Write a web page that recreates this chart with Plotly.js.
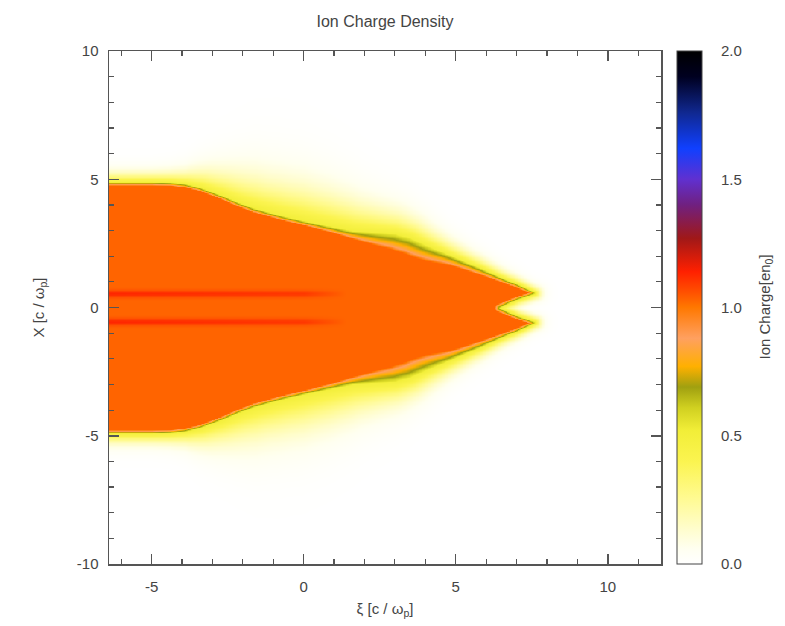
<!DOCTYPE html>
<html>
<head>
<meta charset="utf-8">
<script src="https://cdn.plot.ly/plotly-3.0.1.min.js"></script>
<style>html,body{margin:0;padding:0;background:#fff;}#chart{width:785px;height:626px;}</style>
</head>
<body>
<div id="chart"></div>
<script>
// ---- values ----
// upper boundary of the ion column (lower half mirrors it)
const PROFILE_XI = [-6.4, -5.0, -4.4, -3.9, -3.4, -2.8, -2.2, -1.6, -0.8, 0.0, 0.8, 1.6, 2.4, 3.0, 3.5, 4.0, 4.8, 5.6, 6.4, 7.0, 7.6];
const OUTER_X    = [4.9, 4.9, 4.88, 4.82, 4.68, 4.42, 4.12, 3.86, 3.6, 3.38, 3.18, 3.0, 2.93, 2.88, 2.72, 2.45, 2.05, 1.65, 1.22, 0.92, 0.6];
// thickness of the olive / amber / peach rim inside the edge
const RIM_WIDTH  = [0.12, 0.12, 0.12, 0.12, 0.12, 0.13, 0.14, 0.15, 0.15, 0.16, 0.2, 0.3, 0.5, 0.62, 0.62, 0.55, 0.35, 0.25, 0.16, 0.12, 0.1];
// width of the yellow glow outside the edge
const HALO_WIDTH = [0.35, 0.35, 0.38, 0.45, 0.6, 0.75, 0.9, 1.05, 1.15, 1.2, 1.15, 1.05, 0.9, 0.8, 0.7, 0.6, 0.45, 0.35, 0.28, 0.24, 0.2];
// notch at the head of the column
const NOTCH_XI = [6.45, 7.0, 7.6];
const NOTCH_X  = [0.0, 0.32, 0.55];
// two denser filaments near x = +/-0.55
const FIL_X = 0.55;
const FIL_XI  = [-6.4, -2.0, 0.0, 0.8, 1.4];
const FIL_AMP = [0.1, 0.08, 0.07, 0.03, 0.0];
// levels
const BODY_LEVEL = 1.03;
const HALO_PEAK = 0.5;
const RIM_T = [0, 0.3, 0.55, 0.8, 1.0];
const RIM_V = [0.52, 0.68, 0.77, 0.88, 1.03];
// axes
const XI_RANGE = [-6.4, 11.75];
const X_RANGE = [-10, 10];
const XI_TICKS = [-5, 0, 5, 10];
const XI_TICKTEXT = ['-5', '0', '5', '10'];
const X_TICKS = [-10, -5, 0, 5, 10];
const X_TICKTEXT = ['-10', '-5', '0', '5', '10'];
const CB_TICKS = [0, 0.5, 1.0, 1.5, 2.0];
const CB_TICKTEXT = ['0.0', '0.5', '1.0', '1.5', '2.0'];

function interp(xs, ys, x) {
  if (x <= xs[0]) return ys[0];
  const n = xs.length;
  if (x >= xs[n - 1]) return ys[n - 1];
  for (let i = 1; i < n; i++) {
    if (x <= xs[i]) {
      const t = (x - xs[i - 1]) / (xs[i] - xs[i - 1]);
      return ys[i - 1] + t * (ys[i] - ys[i - 1]);
    }
  }
  return ys[n - 1];
}

// boundary polyline (upper half): outer edge -> tip -> notch down to the axis
const poly = [];
for (let i = 0; i < PROFILE_XI.length; i++) poly.push([PROFILE_XI[i], OUTER_X[i]]);
for (let i = NOTCH_XI.length - 1; i >= 0; i--) poly.push([NOTCH_XI[i], NOTCH_X[i]]);

function distToPoly(px, py) {
  let best = 1e9;
  for (let i = 0; i < poly.length - 1; i++) {
    const ax = poly[i][0], ay = poly[i][1], bx = poly[i + 1][0], by = poly[i + 1][1];
    const dx = bx - ax, dy = by - ay;
    const L = dx * dx + dy * dy;
    let t = L > 0 ? ((px - ax) * dx + (py - ay) * dy) / L : 0;
    t = Math.max(0, Math.min(1, t));
    const qx = ax + t * dx - px, qy = ay + t * dy - py;
    const d = qx * qx + qy * qy;
    if (d < best) best = d;
  }
  return Math.sqrt(best);
}

function inside(xi, ax) {
  if (xi < PROFILE_XI[0] - 1 || xi > PROFILE_XI[PROFILE_XI.length - 1]) return false;
  if (ax > interp(PROFILE_XI, OUTER_X, xi)) return false;
  if (xi >= NOTCH_XI[0] && ax < interp(NOTCH_XI, NOTCH_X, xi)) return false;
  return true;
}

const step = 0.05;
const xs = [], ys = [], z = [];
for (let v = XI_RANGE[0]; v <= XI_RANGE[1] + 1e-9; v += step) xs.push(+v.toFixed(3));
for (let v = X_RANGE[0]; v <= X_RANGE[1] + 1e-9; v += step) ys.push(+v.toFixed(3));
for (let j = 0; j < ys.length; j++) {
  const row = [];
  const ax = Math.abs(ys[j]);
  for (let i = 0; i < xs.length; i++) {
    const xi = xs[i];
    const d = distToPoly(xi, ax);
    let val;
    if (inside(xi, ax)) {
      const r = interp(PROFILE_XI, RIM_WIDTH, xi);
      const t = d / r;
      val = t >= 1 ? BODY_LEVEL : interp(RIM_T, RIM_V, t);
      const fa = interp(FIL_XI, FIL_AMP, xi);
      val += fa * Math.exp(-Math.pow((ax - FIL_X) / 0.13, 2));
    } else {
      const w = interp(PROFILE_XI, HALO_WIDTH, xi);
      val = HALO_PEAK * Math.exp(-Math.pow(d / w, 1.3));
    }
    row.push(val);
  }
  z.push(row);
}

const colorscale = [
  [0.0, '#ffffff'], [0.03, '#fffff0'], [0.065, '#fffdd0'], [0.13, '#fffa90'], [0.2, '#fbf450'],
  [0.26, '#f2ee38'], [0.305, '#d0d020'], [0.345, '#a0a010'], [0.385, '#ffb000'],
  [0.44, '#ffa060'], [0.5, '#ff7800'], [0.53, '#ff5000'], [0.57, '#ff2000'],
  [0.635, '#a01818'], [0.7, '#702080'], [0.75, '#6030d0'], [0.81, '#1040ff'],
  [0.88, '#102890'], [0.95, '#000020'], [1.0, '#000000']
];

const FONT = 'Liberation Sans, Arial, Helvetica, sans-serif';
const TXT = '#444';

// colorbar tick marks on both sides of the bar
const cbL = (677 - 109) / 552, cbR = (702 - 109) / 552;
const shapes = [];
for (let k = 1; k < 20; k++) {
  const yv = k / 20;
  const major = k % 5 === 0;
  const len = (major ? 7 : 4) / 552;
  shapes.push({type: 'line', xref: 'paper', yref: 'paper', x0: cbL, x1: cbL + len, y0: yv, y1: yv, line: {color: '#333', width: 1}});
  shapes.push({type: 'line', xref: 'paper', yref: 'paper', x0: cbR - len, x1: cbR, y0: yv, y1: yv, line: {color: '#333', width: 1}});
}

const trace = {
  type: 'heatmap', x: xs, y: ys, z: z,
  zmin: 0, zmax: 2, colorscale: colorscale, zsmooth: 'best',
  hoverinfo: 'skip',
  colorbar: {
    x: cbL, xanchor: 'left', xpad: 0, ypad: 0, len: 1, lenmode: 'fraction',
    y: 0.5, yanchor: 'middle',
    thickness: 25, thicknessmode: 'pixels',
    outlinewidth: 1, outlinecolor: '#444',
    tickmode: 'array', tickvals: CB_TICKS, ticktext: CB_TICKTEXT,
    ticks: 'outside', ticklen: 16, tickcolor: 'rgba(0,0,0,0)',
    tickfont: {family: FONT, size: 15, color: TXT}
  }
};

const axisCommon = {
  showgrid: false, zeroline: false, showline: true, linecolor: '#555', linewidth: 1.5,
  mirror: 'ticks', ticks: 'inside', ticklen: 10, tickwidth: 1.5, tickcolor: '#555',
  tickmode: 'array', tickfont: {family: FONT, size: 15, color: TXT},
  minor: {ticks: 'inside', dtick: 1, tick0: 0, ticklen: 5, tickwidth: 1.2, tickcolor: '#555'}
};

const layout = {
  width: 785, height: 626,
  margin: {l: 109, r: 124, t: 51, b: 62},
  paper_bgcolor: '#fff', plot_bgcolor: '#fff',
  font: {family: FONT, color: TXT},
  title: {text: 'Ion Charge Density', x: 0.5, xref: 'paper', xanchor: 'center', y: 1 - 21 / 626, yref: 'container', yanchor: 'middle', font: {family: FONT, size: 16, color: TXT}},
  xaxis: Object.assign({}, axisCommon, {range: XI_RANGE, tickvals: XI_TICKS, ticktext: XI_TICKTEXT, ticklabelstandoff: 8,
    title: {text: 'ξ [c / ω<sub>p</sub>]', font: {family: FONT, size: 15, color: TXT}, standoff: 10}}),
  yaxis: Object.assign({}, axisCommon, {range: X_RANGE, tickvals: X_TICKS, ticktext: X_TICKTEXT, ticklabelstandoff: 6,
    title: {text: 'X [c / ω<sub>p</sub>]', font: {family: FONT, size: 15, color: TXT}, standoff: 28}}),
  shapes: shapes,
  annotations: [{
    text: 'Ion Charge[en<sub>0</sub>]', xref: 'paper', yref: 'paper',
    x: (765 - 109) / 552, y: 0.5, xanchor: 'center', yanchor: 'middle',
    textangle: -90, showarrow: false, font: {family: FONT, size: 15, color: TXT}
  }]
};

Plotly.newPlot('chart', [trace], layout, {displayModeBar: false, staticPlot: true});
</script>
</body>
</html>
